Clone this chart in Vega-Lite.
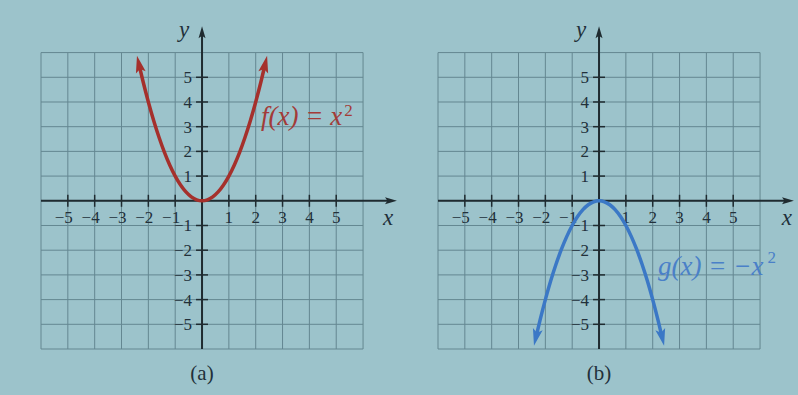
{
  "$schema": "https://vega.github.io/schema/vega-lite/v6.json",
  "background": "#9cc3cb",
  "padding": {"left": 40, "top": 18, "right": 0, "bottom": 14},
  "bounds": "flush",
  "spacing": 32,
  "config": {"view": {"stroke": null}, "axis": {"disable": true}},
  "datasets": {
    "grid": [{"v": -6}, {"v": -5}, {"v": -4}, {"v": -3}, {"v": -2}, {"v": -1}, {"v": 0}, {"v": 1}, {"v": 2}, {"v": 3}, {"v": 4}, {"v": 5}, {"v": 6}],
    "ticks": [
      {"v": -5, "label": "−5"}, {"v": -4, "label": "−4"}, {"v": -3, "label": "−3"}, {"v": -2, "label": "−2"}, {"v": -1, "label": "−1"},
      {"v": 1, "label": "1"}, {"v": 2, "label": "2"}, {"v": 3, "label": "3"}, {"v": 4, "label": "4"}, {"v": 5, "label": "5"}
    ],
    "axes": [
      {"x": -6, "y": 0, "x2": 7.0, "y2": 0},
      {"x": 0, "y": -6, "x2": 0, "y2": 6.78}
    ],
    "axisHeads": [
      {"x": 7.0, "y": 0, "dir": "right"},
      {"x": 0, "y": 6.78, "dir": "up"}
    ],
    "f": [
      {"x": -2.34, "y": 5.476}, {"x": -2.2, "y": 4.84}, {"x": -2.0, "y": 4.0}, {"x": -1.8, "y": 3.24}, {"x": -1.6, "y": 2.56},
      {"x": -1.4, "y": 1.96}, {"x": -1.2, "y": 1.44}, {"x": -1.0, "y": 1.0}, {"x": -0.8, "y": 0.64}, {"x": -0.6, "y": 0.36},
      {"x": -0.4, "y": 0.16}, {"x": -0.2, "y": 0.04}, {"x": 0, "y": 0}, {"x": 0.2, "y": 0.04}, {"x": 0.4, "y": 0.16},
      {"x": 0.6, "y": 0.36}, {"x": 0.8, "y": 0.64}, {"x": 1.0, "y": 1.0}, {"x": 1.2, "y": 1.44}, {"x": 1.4, "y": 1.96},
      {"x": 1.6, "y": 2.56}, {"x": 1.8, "y": 3.24}, {"x": 2.0, "y": 4.0}, {"x": 2.2, "y": 4.84}, {"x": 2.34, "y": 5.476}
    ],
    "g": [
      {"x": -2.34, "y": -5.476}, {"x": -2.2, "y": -4.84}, {"x": -2.0, "y": -4.0}, {"x": -1.8, "y": -3.24}, {"x": -1.6, "y": -2.56},
      {"x": -1.4, "y": -1.96}, {"x": -1.2, "y": -1.44}, {"x": -1.0, "y": -1.0}, {"x": -0.8, "y": -0.64}, {"x": -0.6, "y": -0.36},
      {"x": -0.4, "y": -0.16}, {"x": -0.2, "y": -0.04}, {"x": 0, "y": 0}, {"x": 0.2, "y": -0.04}, {"x": 0.4, "y": -0.16},
      {"x": 0.6, "y": -0.36}, {"x": 0.8, "y": -0.64}, {"x": 1.0, "y": -1.0}, {"x": 1.2, "y": -1.44}, {"x": 1.4, "y": -1.96},
      {"x": 1.6, "y": -2.56}, {"x": 1.8, "y": -3.24}, {"x": 2.0, "y": -4.0}, {"x": 2.2, "y": -4.84}, {"x": 2.34, "y": -5.476}
    ],
    "annA": [
      {"kind": "fn", "x": 2.2, "y": 3.38, "t": "f(x) = x"},
      {"kind": "sup", "x": 5.3, "y": 3.62, "t": "2"},
      {"kind": "xl", "x": 6.93, "y": -0.69, "t": "x"},
      {"kind": "yl", "x": -0.67, "y": 6.92, "t": "y"},
      {"kind": "cap", "x": 0, "y": -7.0, "t": "(a)"}
    ],
    "annB": [
      {"kind": "fn", "x": 2.2, "y": -2.67, "t": "g(x) = −x"},
      {"kind": "sup", "x": 6.28, "y": -2.3, "t": "2"},
      {"kind": "xl", "x": 7.0, "y": -0.69, "t": "x"},
      {"kind": "yl", "x": -0.67, "y": 6.92, "t": "y"},
      {"kind": "cap", "x": 0, "y": -7.0, "t": "(b)"}
    ]
  },
  "hconcat": [
    {
      "width": 365,
      "height": 331,
      "layer": [
        {
          "data": {"name": "grid"},
          "mark": {"type": "rule", "color": "#648791", "strokeWidth": 1},
          "encoding": {
            "x": {"field": "v", "type": "quantitative", "scale": {"domain": [-6, 7.6], "nice": false, "zero": false}},
            "y": {"datum": -6, "type": "quantitative", "scale": {"domain": [-6, 7.4], "nice": false, "zero": false}},
            "y2": {"datum": 6}
          }
        },
        {
          "data": {"name": "grid"},
          "mark": {"type": "rule", "color": "#648791", "strokeWidth": 1},
          "encoding": {
            "y": {"field": "v", "type": "quantitative"},
            "x": {"datum": -6, "type": "quantitative"},
            "x2": {"datum": 6}
          }
        },
        {
          "data": {"name": "axes"},
          "mark": {"type": "rule", "color": "#1f2b30", "strokeWidth": 2},
          "encoding": {
            "x": {"field": "x", "type": "quantitative"},
            "x2": {"field": "x2"},
            "y": {"field": "y", "type": "quantitative"},
            "y2": {"field": "y2"}
          }
        },
        {
          "data": {"name": "axisHeads"},
          "mark": {"type": "point", "filled": true, "size": 196, "color": "#1f2b30", "opacity": 1},
          "encoding": {
            "x": {"field": "x", "type": "quantitative"},
            "y": {"field": "y", "type": "quantitative"},
            "shape": {"field": "dir", "type": "nominal", "legend": null, "scale": {"domain": ["right", "up"], "range": ["M1,0L-0.7,-0.5L-0.35,0L-0.7,0.5Z", "M0,-1L0.5,0.7L0,0.35L-0.5,0.7Z"]}}
          }
        },
        {
          "data": {"name": "ticks"},
          "mark": {"type": "tick", "orient": "vertical", "size": 12, "thickness": 1.5, "color": "#1f2b30", "opacity": 1},
          "encoding": {
            "x": {"field": "v", "type": "quantitative"},
            "y": {"datum": 0, "type": "quantitative"}
          }
        },
        {
          "data": {"name": "ticks"},
          "mark": {"type": "tick", "orient": "horizontal", "size": 12, "thickness": 1.5, "color": "#1f2b30", "opacity": 1},
          "encoding": {
            "y": {"field": "v", "type": "quantitative"},
            "x": {"datum": 0, "type": "quantitative"}
          }
        },
        {
          "data": {"name": "ticks"},
          "transform": [{"filter": "datum.v < 0"}],
          "mark": {"type": "text", "align": "right", "baseline": "middle", "dx": 5, "dy": 17, "font": "Liberation Serif", "fontSize": 17, "color": "#22303a"},
          "encoding": {
            "x": {"field": "v", "type": "quantitative"},
            "y": {"datum": 0, "type": "quantitative"},
            "text": {"field": "label"}
          }
        },
        {
          "data": {"name": "ticks"},
          "transform": [{"filter": "datum.v > 0"}],
          "mark": {"type": "text", "align": "center", "baseline": "middle", "dy": 17, "font": "Liberation Serif", "fontSize": 17, "color": "#22303a"},
          "encoding": {
            "x": {"field": "v", "type": "quantitative"},
            "y": {"datum": 0, "type": "quantitative"},
            "text": {"field": "label"}
          }
        },
        {
          "data": {"name": "ticks"},
          "mark": {"type": "text", "align": "right", "baseline": "middle", "dx": -10, "dy": 1, "font": "Liberation Serif", "fontSize": 17, "color": "#22303a"},
          "encoding": {
            "y": {"field": "v", "type": "quantitative"},
            "x": {"datum": 0, "type": "quantitative"},
            "text": {"field": "label"}
          }
        },
        {
          "data": {"name": "f"},
          "mark": {"type": "line", "color": "#a5302c", "strokeWidth": 3.5, "interpolate": "monotone"},
          "encoding": {
            "x": {"field": "x", "type": "quantitative"},
            "y": {"field": "y", "type": "quantitative"}
          }
        },
        {
          "data": {"name": "f"},
          "transform": [{"filter": "datum.x == 2.34"}],
          "mark": {"type": "point", "filled": true, "size": 400, "angle": 13, "color": "#a5302c", "opacity": 1, "shape": "M0,-1L0.5,0.7L0,0.35L-0.5,0.7Z"},
          "encoding": {
            "x": {"field": "x", "type": "quantitative"},
            "y": {"field": "y", "type": "quantitative"}
          }
        },
        {
          "data": {"name": "f"},
          "transform": [{"filter": "datum.x == -2.34"}],
          "mark": {"type": "point", "filled": true, "size": 400, "angle": -13, "color": "#a5302c", "opacity": 1, "shape": "M0,-1L0.5,0.7L0,0.35L-0.5,0.7Z"},
          "encoding": {
            "x": {"field": "x", "type": "quantitative"},
            "y": {"field": "y", "type": "quantitative"}
          }
        },
        {
          "data": {"name": "annA"},
          "transform": [{"filter": "datum.kind == 'fn'"}],
          "mark": {"type": "text", "align": "left", "baseline": "middle", "font": "Liberation Serif", "fontStyle": "italic", "fontSize": 27, "color": "#a33b38"},
          "encoding": {
            "x": {"field": "x", "type": "quantitative"},
            "y": {"field": "y", "type": "quantitative"},
            "text": {"field": "t"}
          }
        },
        {
          "data": {"name": "annA"},
          "transform": [{"filter": "datum.kind == 'sup'"}],
          "mark": {"type": "text", "align": "left", "baseline": "middle", "font": "Liberation Serif", "fontSize": 17, "color": "#a33b38"},
          "encoding": {
            "x": {"field": "x", "type": "quantitative"},
            "y": {"field": "y", "type": "quantitative"},
            "text": {"field": "t"}
          }
        },
        {
          "data": {"name": "annA"},
          "transform": [{"filter": "datum.kind == 'xl' || datum.kind == 'yl'"}],
          "mark": {"type": "text", "align": "center", "baseline": "middle", "font": "Liberation Serif", "fontStyle": "italic", "fontSize": 23, "color": "#22303a"},
          "encoding": {
            "x": {"field": "x", "type": "quantitative"},
            "y": {"field": "y", "type": "quantitative"},
            "text": {"field": "t"}
          }
        },
        {
          "data": {"name": "annA"},
          "transform": [{"filter": "datum.kind == 'cap'"}],
          "mark": {"type": "text", "align": "center", "baseline": "middle", "font": "Liberation Serif", "fontSize": 21, "color": "#22303a"},
          "encoding": {
            "x": {"field": "x", "type": "quantitative"},
            "y": {"field": "y", "type": "quantitative"},
            "text": {"field": "t"}
          }
        }
      ]
    },
    {
      "width": 365,
      "height": 331,
      "layer": [
        {
          "data": {"name": "grid"},
          "mark": {"type": "rule", "color": "#648791", "strokeWidth": 1},
          "encoding": {
            "x": {"field": "v", "type": "quantitative", "scale": {"domain": [-6, 7.6], "nice": false, "zero": false}},
            "y": {"datum": -6, "type": "quantitative", "scale": {"domain": [-6, 7.4], "nice": false, "zero": false}},
            "y2": {"datum": 6}
          }
        },
        {
          "data": {"name": "grid"},
          "mark": {"type": "rule", "color": "#648791", "strokeWidth": 1},
          "encoding": {
            "y": {"field": "v", "type": "quantitative"},
            "x": {"datum": -6, "type": "quantitative"},
            "x2": {"datum": 6}
          }
        },
        {
          "data": {"name": "axes"},
          "mark": {"type": "rule", "color": "#1f2b30", "strokeWidth": 2},
          "encoding": {
            "x": {"field": "x", "type": "quantitative"},
            "x2": {"field": "x2"},
            "y": {"field": "y", "type": "quantitative"},
            "y2": {"field": "y2"}
          }
        },
        {
          "data": {"name": "axisHeads"},
          "mark": {"type": "point", "filled": true, "size": 196, "color": "#1f2b30", "opacity": 1},
          "encoding": {
            "x": {"field": "x", "type": "quantitative"},
            "y": {"field": "y", "type": "quantitative"},
            "shape": {"field": "dir", "type": "nominal", "legend": null, "scale": {"domain": ["right", "up"], "range": ["M1,0L-0.7,-0.5L-0.35,0L-0.7,0.5Z", "M0,-1L0.5,0.7L0,0.35L-0.5,0.7Z"]}}
          }
        },
        {
          "data": {"name": "ticks"},
          "mark": {"type": "tick", "orient": "vertical", "size": 12, "thickness": 1.5, "color": "#1f2b30", "opacity": 1},
          "encoding": {
            "x": {"field": "v", "type": "quantitative"},
            "y": {"datum": 0, "type": "quantitative"}
          }
        },
        {
          "data": {"name": "ticks"},
          "mark": {"type": "tick", "orient": "horizontal", "size": 12, "thickness": 1.5, "color": "#1f2b30", "opacity": 1},
          "encoding": {
            "y": {"field": "v", "type": "quantitative"},
            "x": {"datum": 0, "type": "quantitative"}
          }
        },
        {
          "data": {"name": "ticks"},
          "transform": [{"filter": "datum.v < 0"}],
          "mark": {"type": "text", "align": "right", "baseline": "middle", "dx": 5, "dy": 17, "font": "Liberation Serif", "fontSize": 17, "color": "#22303a"},
          "encoding": {
            "x": {"field": "v", "type": "quantitative"},
            "y": {"datum": 0, "type": "quantitative"},
            "text": {"field": "label"}
          }
        },
        {
          "data": {"name": "ticks"},
          "transform": [{"filter": "datum.v > 0"}],
          "mark": {"type": "text", "align": "center", "baseline": "middle", "dy": 17, "font": "Liberation Serif", "fontSize": 17, "color": "#22303a"},
          "encoding": {
            "x": {"field": "v", "type": "quantitative"},
            "y": {"datum": 0, "type": "quantitative"},
            "text": {"field": "label"}
          }
        },
        {
          "data": {"name": "ticks"},
          "mark": {"type": "text", "align": "right", "baseline": "middle", "dx": -10, "dy": 1, "font": "Liberation Serif", "fontSize": 17, "color": "#22303a"},
          "encoding": {
            "y": {"field": "v", "type": "quantitative"},
            "x": {"datum": 0, "type": "quantitative"},
            "text": {"field": "label"}
          }
        },
        {
          "data": {"name": "g"},
          "mark": {"type": "line", "color": "#3b78c6", "strokeWidth": 3.5, "interpolate": "monotone"},
          "encoding": {
            "x": {"field": "x", "type": "quantitative"},
            "y": {"field": "y", "type": "quantitative"}
          }
        },
        {
          "data": {"name": "g"},
          "transform": [{"filter": "datum.x == 2.34"}],
          "mark": {"type": "point", "filled": true, "size": 400, "angle": -13, "color": "#3b78c6", "opacity": 1, "shape": "M0,1L0.5,-0.7L0,-0.35L-0.5,-0.7Z"},
          "encoding": {
            "x": {"field": "x", "type": "quantitative"},
            "y": {"field": "y", "type": "quantitative"}
          }
        },
        {
          "data": {"name": "g"},
          "transform": [{"filter": "datum.x == -2.34"}],
          "mark": {"type": "point", "filled": true, "size": 400, "angle": 13, "color": "#3b78c6", "opacity": 1, "shape": "M0,1L0.5,-0.7L0,-0.35L-0.5,-0.7Z"},
          "encoding": {
            "x": {"field": "x", "type": "quantitative"},
            "y": {"field": "y", "type": "quantitative"}
          }
        },
        {
          "data": {"name": "annB"},
          "transform": [{"filter": "datum.kind == 'fn'"}],
          "mark": {"type": "text", "align": "left", "baseline": "middle", "font": "Liberation Serif", "fontStyle": "italic", "fontSize": 27, "color": "#4a80c8"},
          "encoding": {
            "x": {"field": "x", "type": "quantitative"},
            "y": {"field": "y", "type": "quantitative"},
            "text": {"field": "t"}
          }
        },
        {
          "data": {"name": "annB"},
          "transform": [{"filter": "datum.kind == 'sup'"}],
          "mark": {"type": "text", "align": "left", "baseline": "middle", "font": "Liberation Serif", "fontSize": 17, "color": "#4a80c8"},
          "encoding": {
            "x": {"field": "x", "type": "quantitative"},
            "y": {"field": "y", "type": "quantitative"},
            "text": {"field": "t"}
          }
        },
        {
          "data": {"name": "annB"},
          "transform": [{"filter": "datum.kind == 'xl' || datum.kind == 'yl'"}],
          "mark": {"type": "text", "align": "center", "baseline": "middle", "font": "Liberation Serif", "fontStyle": "italic", "fontSize": 23, "color": "#22303a"},
          "encoding": {
            "x": {"field": "x", "type": "quantitative"},
            "y": {"field": "y", "type": "quantitative"},
            "text": {"field": "t"}
          }
        },
        {
          "data": {"name": "annB"},
          "transform": [{"filter": "datum.kind == 'cap'"}],
          "mark": {"type": "text", "align": "center", "baseline": "middle", "font": "Liberation Serif", "fontSize": 21, "color": "#22303a"},
          "encoding": {
            "x": {"field": "x", "type": "quantitative"},
            "y": {"field": "y", "type": "quantitative"},
            "text": {"field": "t"}
          }
        }
      ]
    }
  ]
}
